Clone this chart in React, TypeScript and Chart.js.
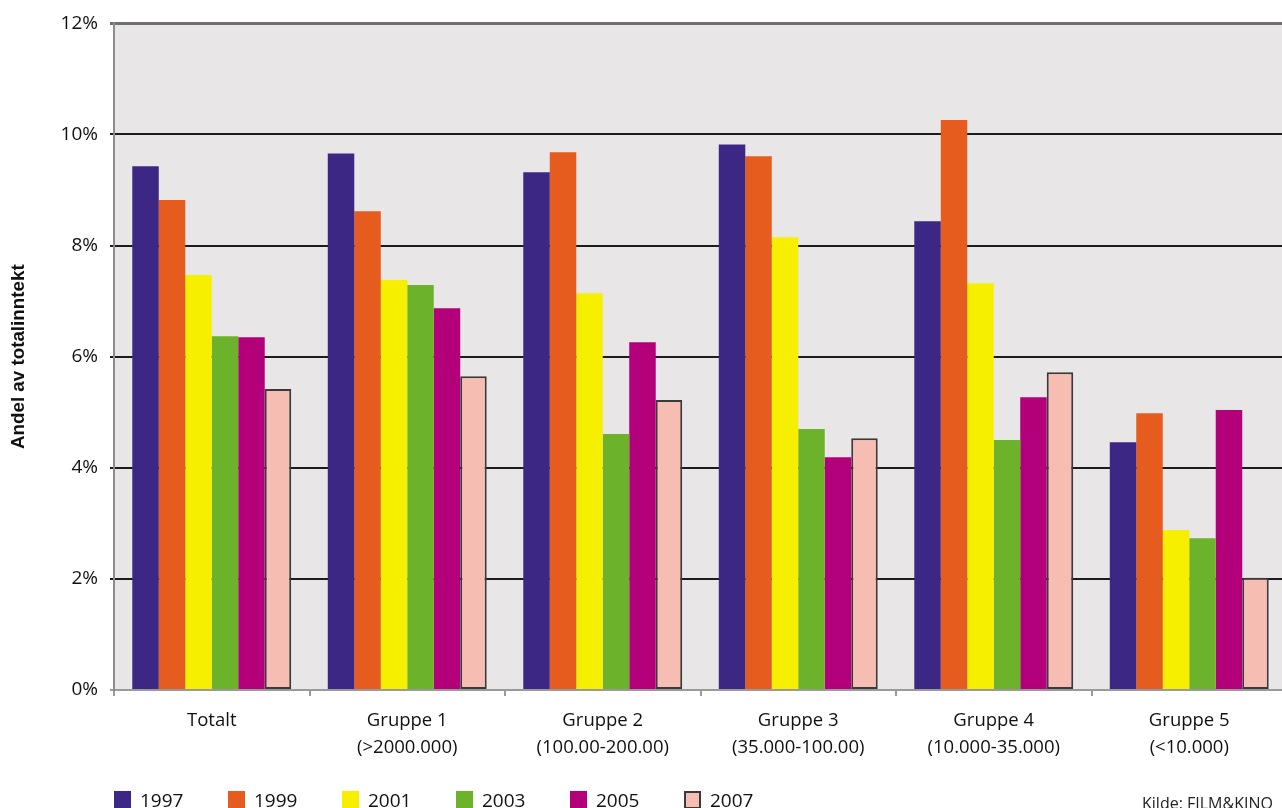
import React, { useEffect, useRef } from "react";
import { Chart, registerables } from "chart.js";

Chart.register(...registerables);

const categories: string[][] = [
  ["Totalt"],
  ["Gruppe 1", "(>2000.000)"],
  ["Gruppe 2", "(100.00-200.00)"],
  ["Gruppe 3", "(35.000-100.00)"],
  ["Gruppe 4", "(10.000-35.000)"],
  ["Gruppe 5", "(<10.000)"],
];

const years = ["1997", "1999", "2001", "2003", "2005", "2007"];

const values1997 = [9.43, 9.66, 9.32, 9.82, 8.44, 4.46];
const values1999 = [8.82, 8.62, 9.68, 9.61, 10.26, 4.98];
const values2001 = [7.47, 7.38, 7.14, 8.15, 7.32, 2.88];
const values2003 = [6.37, 7.29, 4.61, 4.7, 4.5, 2.73];
const values2005 = [6.35, 6.87, 6.26, 4.19, 5.27, 5.04];
const values2007 = [5.42, 5.65, 5.22, 4.53, 5.72, 2.02];

const colors = ["#3c2884", "#e55c1e", "#f6f000", "#6db22b", "#b3007a", "#f6bdb2"];

const yTicks = [0, 2, 4, 6, 8, 10, 12];

const sourceText = "Kilde: FILM&KINO";
const yTitle = "Andel av totalinntekt";

const FONT = '"Open Sans", "Noto Sans", sans-serif';

export default function App() {
  const ref = useRef<HTMLCanvasElement | null>(null);

  useEffect(() => {
    document.documentElement.style.overflow = "hidden";
    document.body.style.overflow = "hidden";
    const canvas = ref.current;
    if (!canvas) return;

    const series = [values1997, values1999, values2001, values2003, values2005, values2007];

    const bgPlugin = {
      id: "plotBg",
      beforeDraw(chart: any) {
        const { ctx, chartArea } = chart;
        ctx.save();
        ctx.fillStyle = "#e8e6e6";
        ctx.fillRect(chartArea.left, chartArea.top, chartArea.right - chartArea.left, chartArea.bottom - chartArea.top);
        ctx.restore();
      },
    };

    const legendPlugin = {
      id: "customLegend",
      afterDraw(chart: any) {
        const ctx = chart.ctx;
        ctx.save();
        chart.data.datasets.forEach((ds: any, i: number) => {
          const x = 114 + i * 114;
          const y = 791;
          ctx.fillStyle = ds.backgroundColor;
          ctx.fillRect(x, y, 17, 17);
          if (ds.borderWidth) {
            ctx.strokeStyle = ds.borderColor;
            ctx.lineWidth = 2;
            ctx.strokeRect(x + 1, y + 1, 15, 16);
          }
          ctx.fillStyle = "#111";
          ctx.font = "19px " + FONT;
          ctx.textBaseline = "alphabetic";
          ctx.textAlign = "left";
          ctx.fillText(ds.label, x + 26, 807);
        });
        ctx.font = "16px " + FONT;
        ctx.fillStyle = "#222";
        ctx.fillText(sourceText, 1142, 809);
        ctx.restore();
      },
    };

    const chart = new Chart(canvas, {
      type: "bar",
      data: {
        labels: categories,
        datasets: years.map((y, i) => ({
          label: y,
          data: series[i],
          backgroundColor: colors[i],
          borderColor: i === 5 ? "#3a3a3a" : colors[i],
          borderWidth: i === 5 ? 2 : 0,
          borderSkipped: false,
          categoryPercentage: 0.813,
          barPercentage: 1,
        })),
      },
      options: {
        responsive: false,
        animation: false,
        devicePixelRatio: 1,
        layout: { padding: { top: 23, right: 3, bottom: 0, left: 0 } },
        plugins: {
          legend: { display: false },
          tooltip: { enabled: false },
        },
        scales: {
          x: {
            grid: {
              offset: true,
              drawOnChartArea: false,
              drawTicks: true,
              tickLength: 6,
              color: "#9a9a9a",
              lineWidth: 2,
            },
            border: { display: true, color: "#9a9a9a", width: 2 },
            ticks: {
              color: "#111",
              padding: 11,
              font: { family: FONT, size: 18.5, lineHeight: 1.46 },
              maxRotation: 0,
              autoSkip: false,
            },
            afterFit(scale: any) {
              scale.height = 118;
            },
          },
          y: {
            min: 0,
            max: 12,
            afterBuildTicks(scale: any) {
              scale.ticks = yTicks.map((v) => ({ value: v }));
            },
            grid: {
              color: (c: any) =>
                c.tick && c.tick.value === 12 ? "#707070" : c.tick && c.tick.value === 0 ? "#9a9a9a" : "#1c1c1c",
              lineWidth: (c: any) => (c.tick && c.tick.value === 12 ? 3 : 2),
              tickLength: 4,
            },
            border: { display: true, color: "#8c8c8c", width: 2 },
            ticks: {
              color: "#111",
              padding: 12,
              font: { family: FONT, size: 19 },
              callback: (v: any) => v + "%",
            },
            title: {
              display: true,
              text: yTitle,
              color: "#111",
              font: { family: '"Liberation Sans", Arial, sans-serif', size: 18.8, weight: "bold" },
              padding: { top: 8, bottom: 0 },
            },
            afterFit(scale: any) {
              scale.width = 114;
            },
          },
        },
      },
      plugins: [bgPlugin, legendPlugin],
    } as any);

    return () => chart.destroy();
  }, []);

  return (
    <div style={{ position: "absolute", left: 0, top: 0, width: 1290, height: 808, background: "#fff" }}>
      <canvas ref={ref} width={1290} height={808} style={{ width: 1290, height: 808, display: "block" }} />
    </div>
  );
}
